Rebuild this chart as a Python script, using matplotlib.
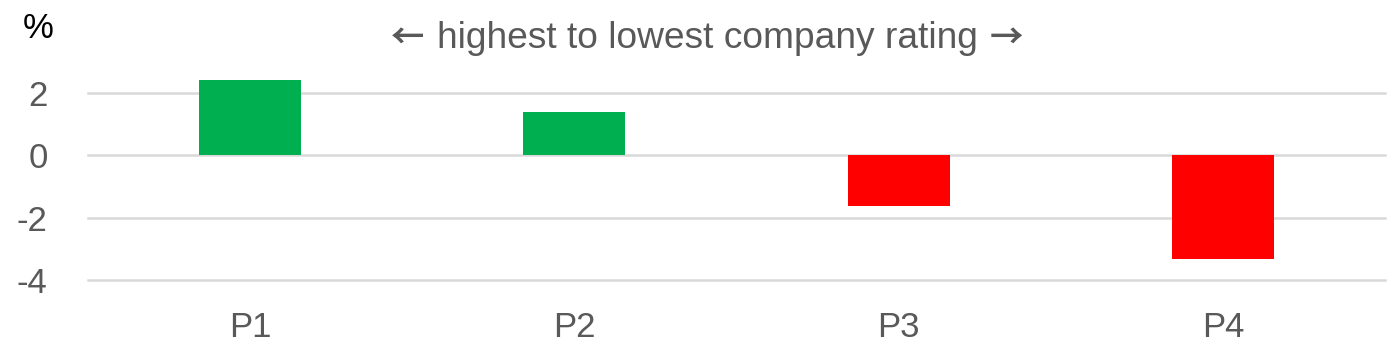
import matplotlib
matplotlib.use("Agg")
import matplotlib.pyplot as plt

# data
categories = ["P1", "P2", "P3", "P4"]
values = [2.42, 1.39, -1.63, -3.33]
yticks = [-4, -2, 0, 2]
title_text = "highest to lowest company rating"

plt.rcParams['font.family'] = ['Liberation Sans', 'DejaVu Sans']
text_color = "#595959"
grid_color = "#d9d9d9"

W, H = 1399, 363
fig = plt.figure(figsize=(W / 100, H / 100), dpi=100)

# axes placed in pixel terms: left 88, right 1385, y=-4 at 280 px, y=4 at ~30 px
left, right = 88, 1385
bottom_px, top_px = 280, 30.5
ax = fig.add_axes([left / W, 1 - bottom_px / H, (right - left) / W, (bottom_px - top_px) / H])

colors = ["#00B050" if v >= 0 else "#FF0000" for v in values]
x = range(len(categories))
ax.bar(x, values, width=0.315, color=colors, zorder=3)

ax.set_xlim(-0.5, len(categories) - 0.5)
ax.set_ylim(-4, 4)
ax.set_yticks(yticks)
ax.set_yticklabels([str(t) for t in yticks])
ax.set_xticks(list(x))
ax.set_xticklabels(categories)

for t in yticks:
    ax.axhline(t, color=grid_color, lw=1.8, zorder=1, clip_on=False)

for s in ax.spines.values():
    s.set_visible(False)
ax.tick_params(axis='both', length=0, colors=text_color, labelsize=25)
ax.tick_params(axis='y', pad=29)
ax.tick_params(axis='x', pad=22)

fig.text(38 / W, 1 - 28 / H, "%", ha="center", va="center", fontsize=25, color="black")
# title; arrows in a CJK family, whose arrow glyphs are larger and heavier
fig.text(707 / W, 1 - 38 / H, title_text, ha="center", va="center", fontsize=26.7, color=text_color)
fig.text(408 / W, 1 - 38 / H, "\u2190", ha="center", va="center", fontsize=24,
         color=text_color, family="Noto Sans CJK SC", weight="bold")
fig.text(1006 / W, 1 - 38 / H, "\u2192", ha="center", va="center", fontsize=24,
         color=text_color, family="Noto Sans CJK SC", weight="bold")

fig.savefig("out.png", dpi=100)
